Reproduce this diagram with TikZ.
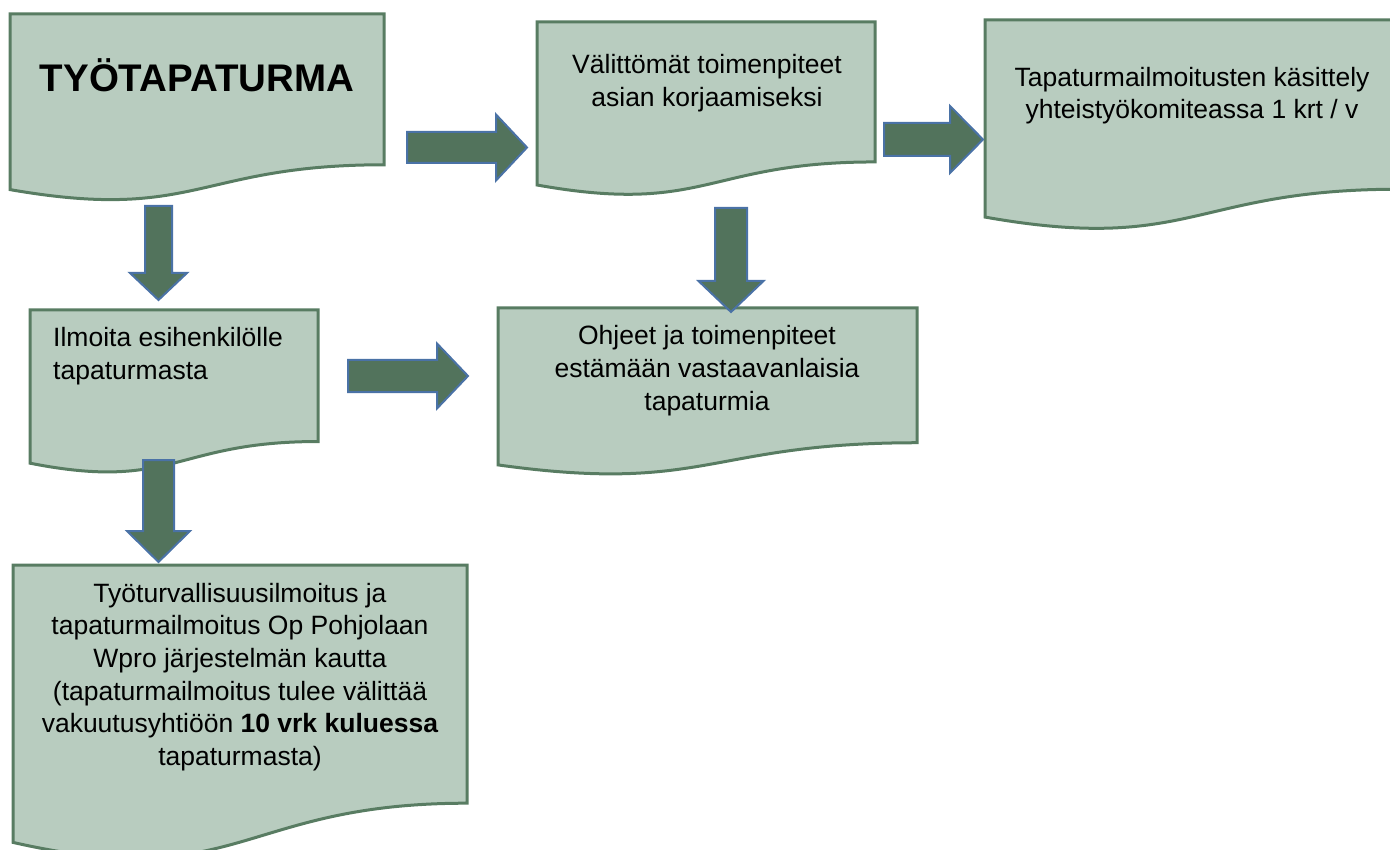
\documentclass[tikz,border=0pt]{standalone}
\usepackage{fontspec}
\setmainfont{Liberation Sans}
\usetikzlibrary{positioning}

\definecolor{boxfill}{HTML}{B8CCBF}
\definecolor{boxline}{HTML}{587C62}
\definecolor{arrowfill}{HTML}{52735C}
\definecolor{arrowline}{HTML}{4A72A6}

\tikzset{
    docbox/.style={draw=boxline, fill=boxfill, line width=3pt, line join=miter},
    blockarrow/.style={draw=arrowline, fill=arrowfill, line width=2pt, line join=miter},
    boxtext/.style={font=\fontsize{26.5}{32.7}\selectfont, align=center, anchor=base, inner sep=0pt}
}

% document shape: left, top, right, height
\newcommand{\docshape}[4]{%
    \draw[docbox] (#1,#2) -- (#3,#2) -- (#3,{#2+0.802*#4})
        .. controls ({(#1+#3)/2},{#2+0.802*#4}) and ({(#1+#3)/2},{#2+1.1075*#4}) .. (#1,{#2+0.934*#4}) -- cycle;}

% block arrow to the right: start, head, tip, middle, half body, half head
\newcommand{\rarrow}[6]{%
    \draw[blockarrow] (#1,{#4-#5}) -- (#2,{#4-#5}) -- (#2,{#4-#6}) -- (#3,#4)
        -- (#2,{#4+#6}) -- (#2,{#4+#5}) -- (#1,{#4+#5}) -- cycle;}

% block arrow downwards: middle, start, head, tip, half body, half head
\newcommand{\darrow}[6]{%
    \draw[blockarrow] ({#1-#5},#2) -- ({#1-#5},#3) -- ({#1-#6},#3) -- (#1,#4)
        -- ({#1+#6},#3) -- ({#1+#5},#3) -- ({#1+#5},#2) -- cycle;}

\begin{document}
\begin{tikzpicture}[x=1pt, y=-1pt]
        \useasboundingbox (0,0) rectangle (1390,850);

        % boxes
        \docshape{10}{14}{384}{188}
        \docshape{537}{22}{875}{174.5}
        \docshape{985}{20}{1399}{211}
        \docshape{30}{310}{318}{164}
        \docshape{498}{308}{917}{168}
        \docshape{13}{565}{467}{297}

        % arrows
        \rarrow{407}{496}{527}{147.5}{15.5}{33}
        \rarrow{884}{950}{983}{139.5}{16.5}{33.5}
        \rarrow{348}{437}{468}{376}{16}{32.5}
        \darrow{158.5}{206}{273}{300}{13.5}{28.5}
        \darrow{731}{208}{281}{312}{16}{32.5}
        \darrow{158.5}{460}{531}{562}{15.5}{31.5}

        % texts (base = last line)
        \node[boxtext, font=\fontsize{38.5}{44}\selectfont\bfseries] (tyo) at (197,92) {TYÖTAPATURMA};
        \node[boxtext] (valit) at (707,106.5) {Välittömät toimenpiteet\\asian korjaamiseksi};
        \node[boxtext] (kasit) at (1192,119) {Tapaturmailmoitusten käsittely\\yhteistyökomiteassa 1 krt / v};
        \node[boxtext, align=left, anchor=base west] (ilmoita) at (53,379) {Ilmoita esihenkilölle\\tapaturmasta};
        \node[boxtext] (ohjeet) at (707,410) {Ohjeet ja toimenpiteet\\estämään vastaavanlaisia\\tapaturmia};
        \node[boxtext] (wpro) at (240,765.5) {Työturvallisuusilmoitus ja\\tapaturmailmoitus Op Pohjolaan\\Wpro järjestelmän kautta\\(tapaturmailmoitus tulee välittää\\vakuutusyhtiöön \textbf{10 vrk kuluessa}\\tapaturmasta)};

    \end{tikzpicture}
\end{document}
